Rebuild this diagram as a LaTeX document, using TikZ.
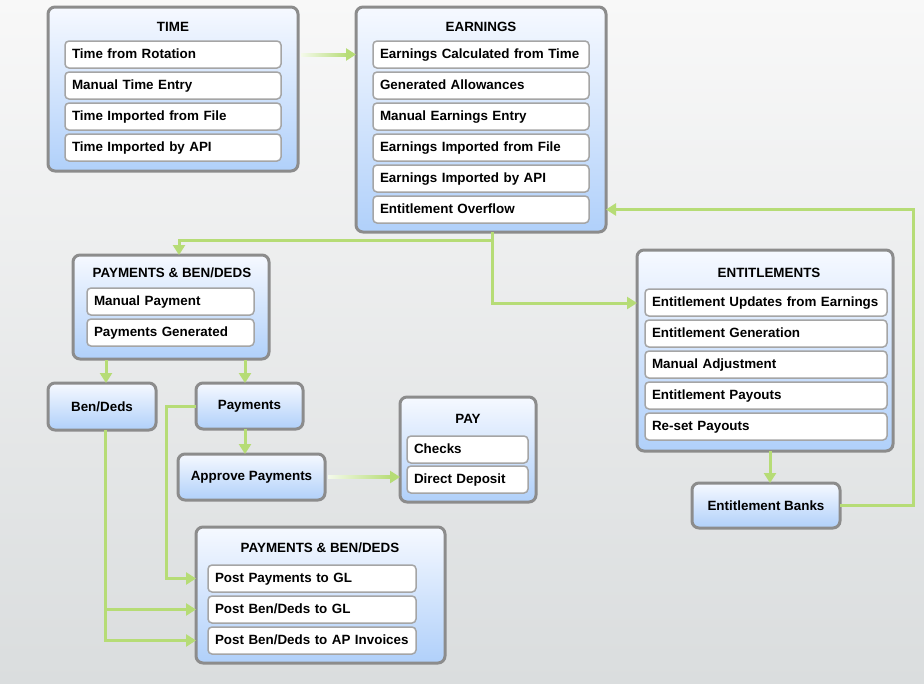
\documentclass[tikz,border=0pt]{standalone}
\usepackage{fontspec}
\setmainfont{Liberation Sans}
\usetikzlibrary{arrows.meta,calc}
\definecolor{lgreen}{RGB}{182,220,118}
\definecolor{boxborder}{RGB}{140,140,140}
\definecolor{itemborder}{RGB}{165,165,165}
\definecolor{boxtop}{RGB}{246,249,255}
\definecolor{boxbot}{RGB}{176,208,250}
\definecolor{bgtop}{RGB}{248,248,248}
\definecolor{bgbot}{RGB}{218,221,222}
\newcommand\itm[5]{\node[itembox,text width=#4,anchor=north west] (#1) at (#2,#3) {#5};}
\newcommand\obox[6]{\node[outerbox,minimum width=#4,minimum height=#5,anchor=north west] (#1) at (#2,#3) {#6};}
\begin{document}
\begin{tikzpicture}[x=1pt,y=-1pt,
  font=\fontsize{13.4}{16}\selectfont\bfseries,
  outerbox/.style={draw=boxborder,line width=3pt,rounded corners=7pt,top color=boxtop,bottom color=boxbot,outer sep=0pt,inner sep=0pt,align=center},
  itembox/.style={draw=itemborder,line width=1.5pt,rounded corners=4pt,fill=white,minimum height=27pt,inner xsep=7pt,inner ysep=0pt,align=left,text height=9.7pt,text depth=2.7pt,outer sep=0pt},
  titletext/.style={inner sep=0pt},
  conn/.style={draw=lgreen,line width=3pt,-{Triangle[length=10pt,width=12pt]}},
  ]
\fill[top color=bgtop,bottom color=bgbot] (0,0) rectangle (924,683);
\useasboundingbox (0,0) rectangle (924,683);

% TIME
\obox{time}{48}{7}{250}{164}{}
\node[titletext] (timet) at (173,27) {TIME};
\itm{t1}{65}{41}{202pt}{Time from Rotation}
\itm{t2}{65}{72}{202pt}{Manual Time Entry}
\itm{t3}{65}{103}{202pt}{Time Imported from File}
\itm{t4}{65}{134}{202pt}{Time Imported by API}

% EARNINGS
\obox{earn}{356}{7}{250}{225}{}
\node[titletext] (earnt) at (481,27) {EARNINGS};
\itm{e1}{373}{41}{202pt}{Earnings Calculated from Time}
\itm{e2}{373}{72}{202pt}{Generated Allowances}
\itm{e3}{373}{103}{202pt}{Manual Earnings Entry}
\itm{e4}{373}{134}{202pt}{Earnings Imported from File}
\itm{e5}{373}{165}{202pt}{Earnings Imported by API}
\itm{e6}{373}{196}{202pt}{Entitlement Overflow}

% PAYMENTS & BEN/DEDS (top)
\obox{pbtop}{73}{255}{196}{104}{}
\node[titletext] (pbtopt) at (172,273) {PAYMENTS \& BEN/DEDS};
\itm{p1}{87}{288}{153pt}{Manual Payment}
\itm{p2}{87}{319}{153pt}{Payments Generated}

% single boxes
\obox{bd}{48}{383}{108}{47}{Ben/Deds}
\obox{pmt}{196}{383}{107}{46}{Payments}
\obox{appr}{178}{454}{147}{46}{Approve Payments}
\obox{banks}{692}{483}{148}{45}{Entitlement Banks}

% PAY
\obox{paybox}{400}{397}{136}{105}{}
\node[titletext] (payt) at (468,419) {PAY};
\itm{y1}{407}{436}{107pt}{Checks}
\itm{y2}{407}{466}{107pt}{Direct Deposit}

% PAYMENTS & BEN/DEDS (bottom)
\obox{bpbox}{196}{527}{249}{136}{}
\node[titletext] (bpt) at (320,548) {PAYMENTS \& BEN/DEDS};
\itm{b1}{208}{565}{194pt}{Post Payments to GL}
\itm{b2}{208}{596}{194pt}{Post Ben/Deds to GL}
\itm{b3}{208}{627}{194pt}{Post Ben/Deds to AP Invoices}

% ENTITLEMENTS
\obox{ent}{637}{250}{256}{201}{}
\node[titletext] (entt) at (769,273) {ENTITLEMENTS};
\itm{n1}{645}{289}{228pt}{Entitlement Updates from Earnings}
\itm{n2}{645}{320}{228pt}{Entitlement Generation}
\itm{n3}{645}{351}{228pt}{Manual Adjustment}
\itm{n4}{645}{382}{228pt}{Entitlement Payouts}
\itm{n5}{645}{413}{228pt}{Re-set Payouts}

% junction coordinates
\coordinate (j1) at (492,240);
\coordinate (j1b) at (179,240);
\coordinate (j2) at (492,303);
\coordinate (k1) at (166,406);
\coordinate (k2) at (105,430);
\coordinate (m1) at (913,300);
\coordinate (q1) at (106,360);
\coordinate (q2) at (245,360);
\coordinate (q3) at (770,451);

% connectors with fading shafts
\shade[left color=lgreen!15,right color=lgreen] ($(time.east |- t1)+(3,-1.5)$) rectangle ($(earn.west |- t1)+(-8,1.5)$);
\draw[conn] ($(earn.west |- t1)+(-10,0)$) -- (earn.west |- t1);
\shade[left color=lgreen!15,right color=lgreen] ($(appr.east)+(3,-1.5)$) rectangle ($(paybox.west |- appr.east)+(-8,1.5)$);
\draw[conn] ($(paybox.west |- appr.east)+(-10,0)$) -- (paybox.west |- appr.east);

% other connectors
\draw[conn] (earn.south -| j1) -- (j1) -- (j1b) -- (j1b |- pbtop.north);
\draw[conn] (j1) -- (j2) -- (ent.west |- j2);
\draw[conn] (q1) -- (q1 |- bd.north);
\draw[conn] (q2) -- (q2 |- pmt.north);
\draw[conn] (q2 |- pmt.south) -- (q2 |- appr.north);
\draw[conn] (pmt.west |- k1) -- (k1) -- (k1 |- b1) -- (bpbox.west |- b1);
\draw[conn] (k2) -- (k2 |- b3) -- (bpbox.west |- b3);
\draw[conn] (k2 |- b2) -- (bpbox.west |- b2);
\draw[conn] (q3) -- (q3 |- banks.north);
\draw[conn] (banks.east) -- (banks.east -| m1) -- (m1 |- e6) -- (earn.east |- e6);
\end{tikzpicture}
\end{document}
